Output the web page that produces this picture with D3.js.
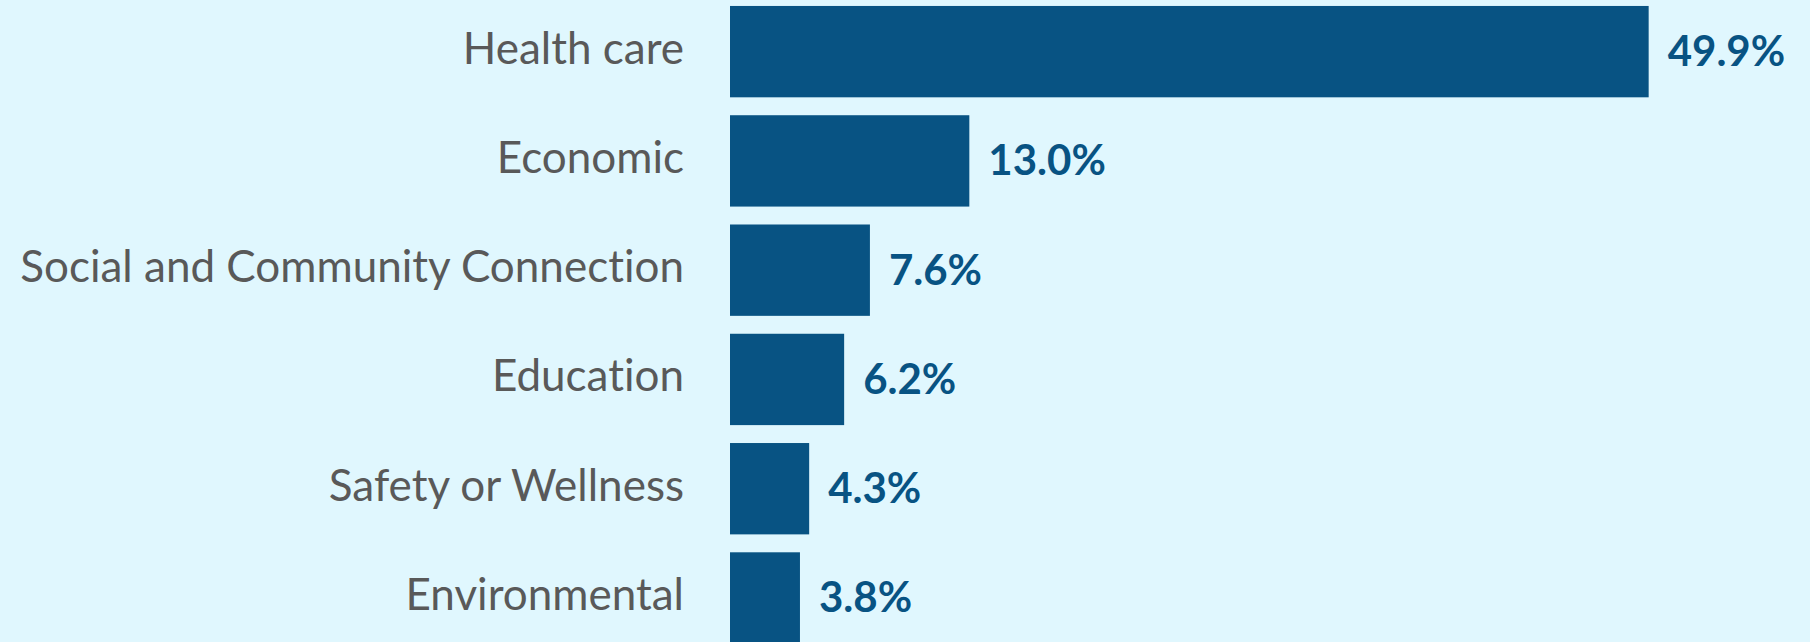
<!DOCTYPE html>
<html>
<head>
<meta charset="utf-8">
<script src="https://cdn.jsdelivr.net/npm/d3@7"></script>
<style>
  html, body { margin: 0; padding: 0; background: #e0f7fe; overflow: hidden; }
  svg { display: block; }
  text { font-variant-ligatures: none; font-feature-settings: "liga" 0, "dlig" 0; }
</style>
</head>
<body>
<svg id="chart" width="1810" height="642"></svg>
<script>
// Share of responses by category (percent)
const categories = [
  "Health care",
  "Economic",
  "Social and Community Connection",
  "Education",
  "Safety or Wellness",
  "Environmental"
];
const values = [49.9, 13.0, 7.6, 6.2, 4.3, 3.8];
const valueLabels = ["49.9%", "13.0%", "7.6%", "6.2%", "4.3%", "3.8%"];

const W = 1810, H = 642;
const barColor = "#085383";
const catColor = "#595959";

const svg = d3.select("#chart");

svg.append("rect")
  .attr("width", W).attr("height", H)
  .attr("fill", "#e0f7fe");

const x = d3.scaleLinear()
  .domain([0, 50])
  .range([730, 1650.5]);

const y = d3.scaleBand()
  .domain(categories)
  .range([-3, 652.6])
  .paddingInner(0.164)
  .paddingOuter(0.082);

const data = categories.map((c, i) => ({ cat: c, value: values[i], label: valueLabels[i] }));

// Bars
svg.selectAll("rect.bar")
  .data(data)
  .join("rect")
  .attr("class", "bar")
  .attr("x", x(0))
  .attr("y", d => y(d.cat))
  .attr("width", d => x(d.value) - x(0))
  .attr("height", y.bandwidth())
  .attr("fill", barColor);

// Category labels on the left
const yAxis = d3.axisLeft(y).tickSize(0).tickPadding(0);
const axisG = svg.append("g")
  .attr("transform", `translate(${x(0) - 46},0)`)
  .call(yAxis);
axisG.select(".domain").remove();
axisG.selectAll("text")
  .attr("fill", catColor)
  .attr("dy", null)
  .attr("y", 12)
  .style("font-family", "Lato, 'Open Sans', sans-serif")
  .style("font-size", "44px")
  .style("font-weight", "400");

// Value labels at the end of each bar
svg.selectAll("text.value")
  .data(data)
  .join("text")
  .attr("class", "value")
  .attr("x", d => x(d.value) + 19)
  .attr("y", d => y(d.cat) + y.bandwidth() / 2 + 14.5)
  .attr("fill", barColor)
  .style("font-family", "Lato, 'Open Sans', sans-serif")
  .style("font-size", "42px")
  .style("font-weight", "700")
  .text(d => d.label);
</script>
</body>
</html>
